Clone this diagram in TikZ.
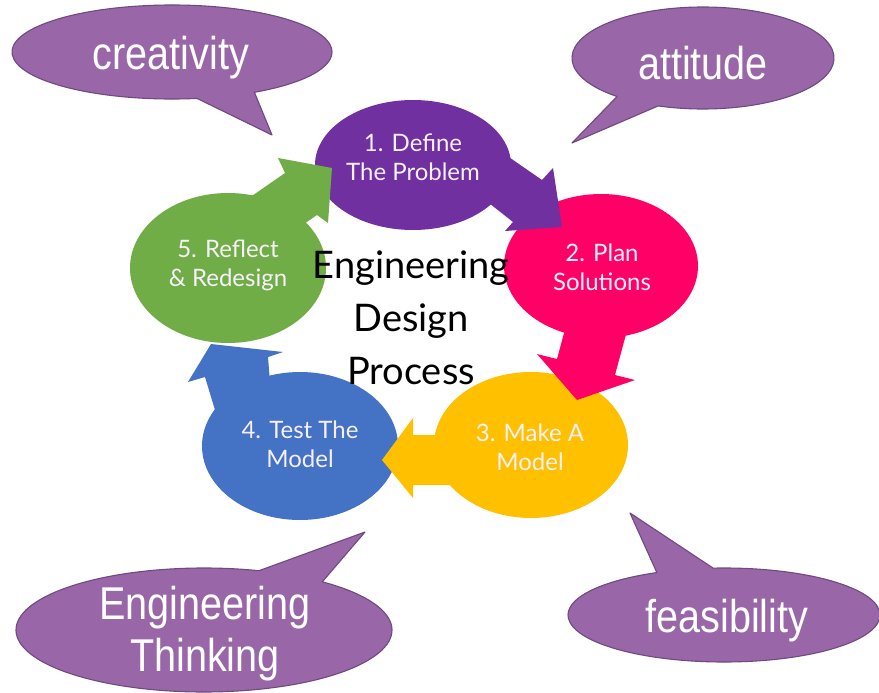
\documentclass[tikz,border=0pt]{standalone}
\usepackage{fontspec}
\setmainfont{Lato}
\newfontfamily\bubblefont[FakeStretch=0.86]{Liberation Sans}
\newfontfamily\handfont{Lato}
\usetikzlibrary{shapes.geometric}
\definecolor{bubblefill}{HTML}{9966A8}
\definecolor{bubbleline}{HTML}{6E4A80}
\definecolor{cpurple}{HTML}{7030A0}
\definecolor{cpink}{HTML}{FF0066}
\definecolor{cyellow}{HTML}{FFC000}
\definecolor{cblue}{HTML}{4472C4}
\definecolor{cgreen}{HTML}{70AD47}
\definecolor{labelwhite}{HTML}{F6F0FA}
\begin{document}
\begin{tikzpicture}[x=1pt,y=-1pt,
  bubble/.style={fill=bubblefill, draw=bubbleline, line width=1.1pt, line join=round},
  btext/.style={text=white, font=\bubblefont\fontsize{46}{52}\selectfont, align=center, inner sep=0pt},
  stage/.style={ellipse, draw=none, inner sep=0pt},
  stext/.style={text=labelwhite, font=\handfont\fontsize{24}{29}\selectfont, align=center, inner sep=0pt},
  ttext/.style={text=black, font=\handfont\fontsize{38}{53}\selectfont, align=center, inner sep=0pt}]
\useasboundingbox (0,0) rectangle (879,693);
\fill[white] (0,0) rectangle (879,693);

% speech bubbles
\draw[bubble] (272,135) -- ([shift={(81:160 and 47)}]172,52)
  arc[start angle=81, end angle=419, x radius=160, y radius=47] -- cycle;
\draw[bubble] (572,143) -- ([shift={(131:131 and 51)}]703,58)
  arc[start angle=131, end angle=470, x radius=131, y radius=51] -- cycle;
\draw[bubble] (365,532) -- ([shift={(-51:188 and 62)}]204,630)
  arc[start angle=-51, end angle=287, x radius=188, y radius=62] -- cycle;
\draw[bubble] (630,513) -- ([shift={(266:156 and 47)}]724,615)
  arc[start angle=266, end angle=604.5, x radius=156, y radius=47] -- cycle;

\node[btext] (b1) at (171,58) {creativity};
\node[btext] (b2) at (703,63) {attitude};
\node[btext] (b3) at (205,634) {Engineering\\Thinking};
\node[btext] (b4) at (727,621) {feasibility};

% stages
\node[stage, fill=cpurple, minimum width=196pt, minimum height=130pt] (p1) at (413,165) {};
\node[stage, fill=cpink,   minimum width=194pt, minimum height=144pt] (p2) at (601,266) {};
\node[stage, fill=cyellow, minimum width=194pt, minimum height=146pt] (p3) at (531,445) {};
\node[stage, fill=cblue,   minimum width=196pt, minimum height=148pt] (p4) at (300,446) {};
\node[stage, fill=cgreen,  minimum width=196pt, minimum height=150pt] (p5) at (228,268) {};

% block arrows
\fill[cpurple] (490,144) -- (542,180) -- (553,168) -- (562,227) -- (505,231) -- (513,222) -- (470,188) -- cycle;
\fill[cpink] (628,327) -- (615,375) -- (635,380) -- (577,400) -- (537,354) -- (557,359) -- (570,311) -- cycle;
\fill[cyellow] (465,485) -- (413,485) -- (413,498) -- (382,460) -- (413,418) -- (413,435) -- (465,435) -- cycle;
\fill[cblue] (215,410) -- (205,377) -- (188,382) -- (211,344) -- (283,352) -- (268,357) -- (270,382) -- cycle;
\fill[cgreen] (236,207) -- (285,173) -- (278,158) -- (332,168) -- (328,223) -- (317,215) -- (285,237) -- cycle;

% stage labels
\node[stext] (t1) at (413,157) {1. Define\\The Problem};
\node[stext] (t2) at (602,267) {2. Plan\\Solutions};
\node[stext] (t3) at (530,447) {3. Make A\\Model};
\node[stext] (t4) at (300,444) {4. Test The\\Model};
\node[stext] (t5) at (228,265) {5. Reflect\\\& Redesign};

% title
\node[ttext] (title) at (411,318) {Engineering\\Design\\Process};
\end{tikzpicture}
\end{document}
